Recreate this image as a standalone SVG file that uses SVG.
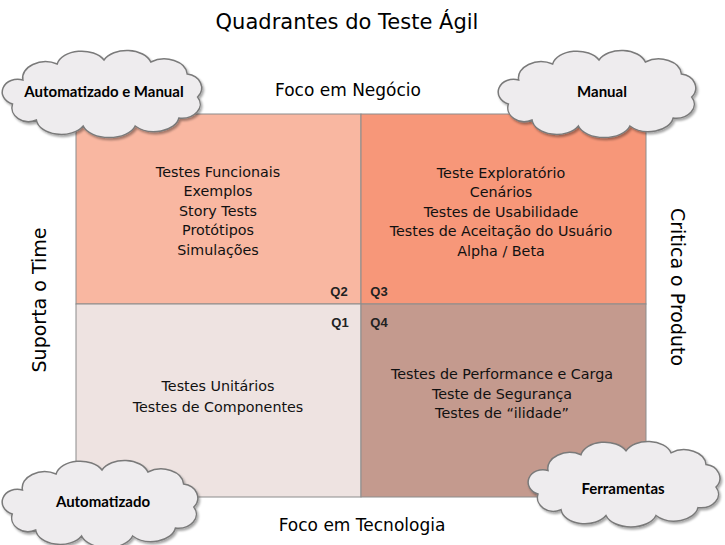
<svg xmlns="http://www.w3.org/2000/svg" width="725" height="545" viewBox="0 0 725 545">
<style>
.title{font-family:"DejaVu Sans",sans-serif;font-size:21px;fill:#000;text-anchor:middle}
.axis{font-family:"DejaVu Sans",sans-serif;font-size:17px;fill:#000;text-anchor:middle}
.side{font-family:"DejaVu Sans",sans-serif;font-size:19px;fill:#000;text-anchor:middle}
.item{font-family:"DejaVu Sans",sans-serif;font-size:14.3px;fill:#111;text-anchor:middle}
.q{font-family:"Liberation Sans",sans-serif;font-size:13px;font-weight:bold;fill:#222;text-anchor:middle}
.cl{font-family:Lato,"Liberation Sans",sans-serif;font-size:15px;font-weight:bold;fill:#000;text-anchor:middle}
.cloud{fill:#EEECEE;stroke:#7A7A7A;stroke-width:1.5;filter:url(#sh)}
.cell{stroke:#8C8C8C;stroke-width:1}
</style>
<defs>
<filter id="sh" x="-10%" y="-10%" width="125%" height="130%">
<feDropShadow dx="1.5" dy="2" stdDeviation="1.2" flood-color="#000" flood-opacity="0.35"/>
</filter>
<path id="cloudShape" vector-effect="non-scaling-stroke" d="M22,28 A22,16 0 0 1 55,12 A24,16 0 0 1 100,8 A24,16 0 0 1 145,10 A22,16 0 0 1 180,22 A16,14 0 0 1 190,45 A18,14 0 0 1 172,66 A24,16 0 0 1 130,74 A26,16 0 0 1 80,74 A24,16 0 0 1 35,68 A16,14 0 0 1 12,52 A14,12 0 0 1 22,28 Z"/>
</defs>
<rect width="725" height="545" fill="#fff"/>
<text class="title" x="347" y="29">Quadrantes do Teste Ágil</text>

<g id="quadrants">
<rect id="q2" class="cell" x="76" y="114" width="285" height="190" fill="#F9B7A1"/>
<rect id="q3" class="cell" x="361" y="114" width="285" height="190" fill="#F79779"/>
<rect id="q1" class="cell" x="76" y="304" width="285" height="193" fill="#EEE3E1"/>
<rect id="q4" class="cell" x="361" y="304" width="285" height="193" fill="#C49A8E"/>
</g>

<g id="q2-text">
<text class="item" x="218" y="177">Testes Funcionais</text>
<text class="item" x="218" y="196">Exemplos</text>
<text class="item" x="218" y="216">Story Tests</text>
<text class="item" x="218" y="235">Protótipos</text>
<text class="item" x="218" y="255">Simulações</text>
<text class="q" x="339" y="296">Q2</text>
</g>
<g id="q3-text">
<text class="item" x="501" y="178">Teste Exploratório</text>
<text class="item" x="501" y="197">Cenários</text>
<text class="item" x="501" y="217">Testes de Usabilidade</text>
<text class="item" x="501" y="236">Testes de Aceitação do Usuário</text>
<text class="item" x="501" y="256">Alpha / Beta</text>
<text class="q" x="379" y="296">Q3</text>
</g>
<g id="q1-text">
<text class="item" x="218" y="391">Testes Unitários</text>
<text class="item" x="218" y="412">Testes de Componentes</text>
<text class="q" x="340" y="327">Q1</text>
</g>
<g id="q4-text">
<text class="item" x="502" y="379">Testes de Performance e Carga</text>
<text class="item" x="502" y="399">Teste de Segurança</text>
<text class="item" x="502" y="418">Testes de “ilidade”</text>
<text class="q" x="379" y="327">Q4</text>
</g>

<text class="axis" x="348" y="96">Foco em Negócio</text>
<text class="axis" x="362" y="531">Foco em Tecnologia</text>
<text class="side" transform="translate(46,300) rotate(-90)">Suporta o Time</text>
<text class="side" transform="translate(671,287) rotate(90)">Critica o Produto</text>

<g id="cloud-automatizado-manual">
<use href="#cloudShape" class="cloud" transform="translate(0,52) scale(1.04,1.0)"/>
<text class="cl" x="104" y="97">Automatizado e Manual</text>
</g>
<g id="cloud-manual">
<use href="#cloudShape" class="cloud" transform="translate(496,52) scale(1.03,1.0)"/>
<text class="cl" x="602" y="97">Manual</text>
</g>
<g id="cloud-automatizado">
<use href="#cloudShape" class="cloud" transform="translate(0,462) scale(1.02,1.0)"/>
<text class="cl" x="103" y="507">Automatizado</text>
</g>
<g id="cloud-ferramentas">
<use href="#cloudShape" class="cloud" transform="translate(526,443) scale(1.0,0.98)"/>
<text class="cl" x="623" y="494">Ferramentas</text>
</g>
</svg>
